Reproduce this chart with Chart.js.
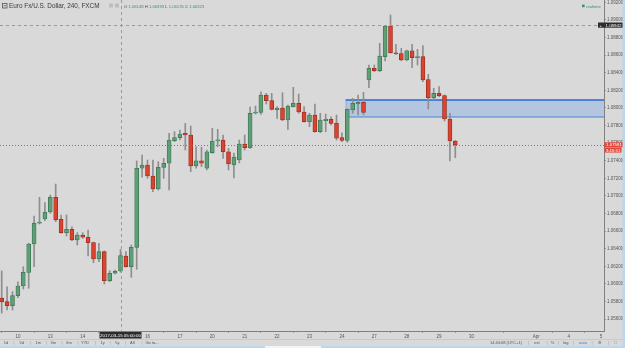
<!DOCTYPE html>
<html>
<head>
<meta charset="utf-8">
<title>Euro Fx/U.S. Dollar, 240</title>
<script src="https://cdn.jsdelivr.net/npm/chart.js@4.4.1/dist/chart.umd.min.js"></script>
<style>
  html, body { margin: 0; padding: 0; background: #d9d9d9; }
  canvas { display: block; }
</style>
</head>
<body>
<canvas id="c" width="625" height="348"></canvas>
<script>
/* ==========================
   data (4h bars, one per index)
   ========================== */
const opens = [
  1.05841, 1.05799, 1.05753, 1.05867, 1.05977, 1.06131, 1.06455, 1.06690, 1.06739, 1.06818,
  1.06985, 1.06735, 1.06583, 1.06622, 1.06500, 1.06557, 1.06531, 1.06472, 1.06284, 1.06367,
  1.06037, 1.06122, 1.06148, 1.06318, 1.06197, 1.06417, 1.07315, 1.07352, 1.07227, 1.07080,
  1.07326, 1.07372, 1.07628, 1.07663, 1.07713, 1.07693, 1.07341, 1.07401, 1.07315, 1.07492,
  1.07625, 1.07636, 1.07503, 1.07352, 1.07409, 1.07591, 1.07549, 1.07940, 1.07951, 1.08148,
  1.08083, 1.07981, 1.08000, 1.07864, 1.08015, 1.08053, 1.07955, 1.07844, 1.07920, 1.07731,
  1.07856, 1.07872, 1.07830, 1.07665, 1.07631, 1.07977, 1.08045, 1.08065, 1.08318, 1.08451,
  1.08424, 1.08583, 1.08932, 1.08628, 1.08619, 1.08545, 1.08651, 1.08572, 1.08583, 1.08324,
  1.08117, 1.08167, 1.08142, 1.07875, 1.07625
];
const highs = [
  1.06148, 1.05969, 1.05913, 1.06026, 1.06197, 1.06463, 1.06773, 1.06985, 1.06924, 1.07011,
  1.07136, 1.06784, 1.06784, 1.06651, 1.06583, 1.06583, 1.06614, 1.06477, 1.06463, 1.06375,
  1.06151, 1.06159, 1.06393, 1.06367, 1.06443, 1.07398, 1.07466, 1.07409, 1.07409, 1.07390,
  1.07428, 1.07713, 1.07731, 1.07750, 1.07826, 1.07795, 1.07560, 1.07553, 1.07523, 1.07769,
  1.07758, 1.07693, 1.07542, 1.07489, 1.07636, 1.07693, 1.08011, 1.08023, 1.08185, 1.08167,
  1.08167, 1.08015, 1.08174, 1.08034, 1.08235, 1.08159, 1.08015, 1.07940, 1.08045, 1.07940,
  1.07932, 1.07901, 1.07920, 1.07719, 1.07989, 1.08110, 1.08148, 1.08178, 1.08489, 1.08489,
  1.08735, 1.08938, 1.09057, 1.08724, 1.08678, 1.08659, 1.08724, 1.08667, 1.08708, 1.08383,
  1.08224, 1.08242, 1.08148, 1.07940, 1.07631
];
const lows = [
  1.05670, 1.05705, 1.05705, 1.05844, 1.05943, 1.05951, 1.06197, 1.06682, 1.06719, 1.06803,
  1.06708, 1.06576, 1.06546, 1.06492, 1.06443, 1.06519, 1.06318, 1.06242, 1.06253, 1.06000,
  1.06026, 1.06114, 1.06135, 1.06190, 1.06076, 1.06167, 1.07213, 1.07201, 1.07049, 1.07068,
  1.07201, 1.07068, 1.07617, 1.07636, 1.07523, 1.07276, 1.07315, 1.07333, 1.07296, 1.07485,
  1.07560, 1.07428, 1.07296, 1.07205, 1.07375, 1.07523, 1.07540, 1.07932, 1.07928, 1.08045,
  1.07977, 1.07883, 1.07856, 1.07758, 1.08011, 1.07940, 1.07838, 1.07788, 1.07724, 1.07719,
  1.07731, 1.07807, 1.07636, 1.07617, 1.07610, 1.07940, 1.07920, 1.07920, 1.08231, 1.08413,
  1.08413, 1.08534, 1.08622, 1.08608, 1.08537, 1.08537, 1.08458, 1.08489, 1.08299, 1.07989,
  1.08091, 1.08128, 1.07852, 1.07398, 1.07435
];
const closes = [
  1.05795, 1.05753, 1.05867, 1.05977, 1.06133, 1.06455, 1.06690, 1.06705, 1.06815, 1.06985,
  1.06727, 1.06583, 1.06622, 1.06500, 1.06557, 1.06531, 1.06469, 1.06284, 1.06367, 1.06037,
  1.06122, 1.06144, 1.06323, 1.06197, 1.06417, 1.07315, 1.07352, 1.07227, 1.07080, 1.07326,
  1.07372, 1.07636, 1.07663, 1.07705, 1.07693, 1.07341, 1.07401, 1.07372, 1.07503, 1.07625,
  1.07636, 1.07503, 1.07364, 1.07443, 1.07591, 1.07549, 1.07940, 1.07955, 1.08148, 1.08083,
  1.07985, 1.08000, 1.07864, 1.08023, 1.08053, 1.07955, 1.07844, 1.07920, 1.07731, 1.07864,
  1.07875, 1.07826, 1.07656, 1.07631, 1.07985, 1.08053, 1.08065, 1.07951, 1.08451, 1.08424,
  1.08591, 1.08932, 1.08628, 1.08614, 1.08545, 1.08651, 1.08572, 1.08583, 1.08318, 1.08117,
  1.08167, 1.08140, 1.07875, 1.07625, 1.07581
];

// time axis: bar index where each day starts, and its label
const dayStart  = [3, 9, 15, 21, 27, 33, 39, 45, 51, 57, 63, 69, 75, 81, 87, 99, 105, 111];
const dayLabels = ['10','13','14','15','16','17','20','21','22','23','24','27','28','29','30','Apr','4','5'];

// price axis ticks
const priceTicks = [1.056, 1.058, 1.060, 1.062, 1.064, 1.066, 1.068, 1.070, 1.072, 1.074,
                    1.076, 1.078, 1.080, 1.082, 1.084, 1.086, 1.088, 1.090, 1.092];

// drawn zone, crosshair, last price
const zoneStart = 63.7, zoneTop = 1.08091, zoneBottom = 1.07898;
const crossBar = 22, crossPrice = 1.08942, crossTime = '2017-03-15 05:00:00';
const lastPrice = 1.07581, countdown = '3:45:51';

/* ==========================
   styles
   ========================== */
const BG = '#d9d9d9';
const UP = '#5f9f78', UP_EDGE = '#3b7653';
const DN = '#d9432f', DN_EDGE = '#9c2c1d';
const WICK = '#8e8e8e';
const FONT = '"Liberation Sans", Arial, sans-serif';

const bodies = opens.map((o, i) => ({ x: i, y: [o, closes[i]] }));
const wicks  = lows.map((l, i) => ({ x: i, y: [l, highs[i]] }));
const fills  = opens.map((o, i) => closes[i] >= o ? UP : DN);
const edges  = opens.map((o, i) => closes[i] >= o ? UP_EDGE : DN_EDGE);

function box(c, x, y, w, h, bg, text, fg, font) {
  c.fillStyle = bg; c.fillRect(x, y, w, h);
  c.fillStyle = fg; c.font = font; c.textBaseline = 'middle';
  c.fillText(text, x + w / 2, y + h / 2 + 0.3);
}

/* ==========================
   extra drawing (zone, crosshair, texts)
   ========================== */
const decor = {
  id: 'decor',
  beforeDraw(chart) {
    const c = chart.ctx;
    c.save();
    c.fillStyle = BG;
    c.fillRect(0, 0, chart.width, chart.height);
    c.restore();
  },
  beforeDatasetsDraw(chart) {
    const { ctx: c, scales: { x, y }, chartArea: a } = chart;
    const x0 = x.getPixelForValue(zoneStart);
    const y0 = y.getPixelForValue(zoneTop), y1 = y.getPixelForValue(zoneBottom);
    c.save();
    c.fillStyle = 'rgba(150,182,228,0.55)';
    c.fillRect(x0, y0, a.right - x0, y1 - y0);
    c.strokeStyle = '#8fb1de'; c.lineWidth = 1;
    c.beginPath(); c.moveTo(x0 + 0.5, y0); c.lineTo(x0 + 0.5, y1); c.stroke();
    c.strokeStyle = '#2468d6'; c.lineWidth = 1.5;
    c.beginPath(); c.moveTo(x0, y0); c.lineTo(a.right, y0); c.stroke();
    c.strokeStyle = '#4a84d8'; c.lineWidth = 1.2;
    c.beginPath(); c.moveTo(x0, y1); c.lineTo(a.right, y1); c.stroke();
    c.restore();
  },
  afterDatasetsDraw(chart) {
    const { ctx: c, scales: { x, y }, chartArea: a } = chart;
    c.save();
    // last price line
    const ly = Math.round(y.getPixelForValue(lastPrice)) + 0.5;
    c.strokeStyle = '#e0503e'; c.lineWidth = 1; c.setLineDash([1, 2]);
    c.beginPath(); c.moveTo(a.left, ly); c.lineTo(a.right, ly); c.stroke();
    // crosshair
    const cx = Math.round(x.getPixelForValue(crossBar)) + 0.5;
    const cy = Math.round(y.getPixelForValue(crossPrice)) + 0.5;
    c.strokeStyle = '#9a9a9a'; c.setLineDash([3, 3]);
    c.beginPath(); c.moveTo(cx, a.top); c.lineTo(cx, a.bottom); c.stroke();
    c.beginPath(); c.moveTo(a.left, cy); c.lineTo(a.right, cy); c.stroke();
    c.restore();
  },
  afterDraw(chart) {
    const { ctx: c, scales: { x, y }, chartArea: a } = chart;
    c.save();
    c.textAlign = 'center';
    const small = '4.4px ' + FONT;

    // price axis labels
    const ly = y.getPixelForValue(lastPrice);
    box(c, a.right + 0.5, ly - 2.6, 19, 5.2, '#e0493a', lastPrice.toFixed(5), '#fff', small);
    box(c, a.right + 0.5, ly + 2.9, 17, 4.8, '#e0493a', countdown, '#fff', small);
    const cy = y.getPixelForValue(crossPrice);
    box(c, a.right - 6, cy - 2.6, 25, 5.2, '#2b2b2b', '', '#fff', small);
    c.fillStyle = '#fff'; c.font = small; c.textAlign = 'left';
    c.fillText('+', a.right - 4.5, cy + 0.3);
    c.fillText(crossPrice.toFixed(5), a.right + 1.5, cy + 0.3);
    c.textAlign = 'center';

    // time axis label
    const cx = x.getPixelForValue(crossBar);
    box(c, cx - 21, a.bottom + 1, 42, 6.5, '#2b2b2b', crossTime, '#fff', small);

    // header
    c.textAlign = 'left'; c.textBaseline = 'alphabetic';
    c.strokeStyle = '#555'; c.lineWidth = 0.8;
    c.strokeRect(2.5, 3.5, 4.5, 4.5);
    c.beginPath(); c.moveTo(3.5, 5.75); c.lineTo(6, 5.75); c.stroke();
    c.fillStyle = '#3a3a3a'; c.font = '6.4px ' + FONT;
    c.fillText('Euro Fx/U.S. Dollar, 240, FXCM', 9, 8.2);
    c.fillStyle = '#bdbdbd';
    c.fillRect(109, 3.5, 4, 4); c.fillRect(115, 3.5, 4, 4);
    const i = crossBar;
    const parts = [['O ', opens[i]], ['H ', highs[i]], ['L ', lows[i]], ['C ', closes[i]]];
    let hx = 124;
    c.font = '4.2px ' + FONT;
    parts.forEach(([k, v]) => {
      c.fillStyle = '#4a4a4a'; c.fillText(k, hx, 7.5); hx += c.measureText(k).width;
      const s = v.toFixed(5);
      c.fillStyle = '#3d9466'; c.fillText(s, hx, 7.5); hx += c.measureText(s + ' ').width;
    });
    c.fillStyle = '#3d9466'; c.fillRect(582, 4.6, 2.6, 2.6);
    c.fillText('realtime', 586, 7.5);

    // bottom toolbar
    c.strokeStyle = '#c9c9c9'; c.lineWidth = 1;
    c.beginPath(); c.moveTo(0, 339.5); c.lineTo(625, 339.5); c.stroke();
    c.font = '4px ' + FONT; c.textAlign = 'center'; c.textBaseline = 'middle';
    const left = [['1d', 6], ['5d', 21.7], ['1m', 38.3], ['3m', 53.3], ['6m', 69], ['YTD', 85],
                  ['1y', 102.7], ['5y', 117.3], ['All', 132.3], ['Go to...', 152]];
    const seps = [13.3, 30, 46, 61.7, 77.3, 95, 110, 125, 141.7, 528, 546.7, 558, 573, 591.7, 608];
    c.fillStyle = '#555';
    left.forEach(([t, px]) => c.fillText(t, px, 343));
    c.fillText('14:44:08 (UTC+1)', 506, 343);
    c.fillText('ext', 537, 343);
    c.fillText('%', 552.5, 343);
    c.fillText('log', 565.7, 343);
    c.fillText('\u2699', 600, 343);
    c.fillStyle = '#3b7bd4';
    c.fillText('auto', 583, 343);
    c.fillText('\u26F6', 615, 343);
    c.strokeStyle = '#c2c2c2';
    seps.forEach(px => { c.beginPath(); c.moveTo(px + 0.5, 341); c.lineTo(px + 0.5, 345); c.stroke(); });

    // window edges
    c.fillStyle = '#bcd6ec';
    c.fillRect(0, 346, 625, 2);
    c.fillRect(622.5, 0, 2.5, 348);
    c.fillStyle = '#f4f4f4';
    c.fillRect(265, 346, 56, 2);
    c.restore();
  }
};

/* ==========================
   chart
   ========================== */
new Chart(document.getElementById('c'), {
  type: 'bar',
  data: {
    datasets: [
      {
        label: 'body', data: bodies, grouped: false,
        backgroundColor: fills, borderColor: edges, borderWidth: 0.8, borderSkipped: false,
        barThickness: 4, minBarLength: 1.2
      },
      {
        label: 'wick', data: wicks, grouped: false,
        backgroundColor: WICK, borderWidth: 0, barThickness: 1
      }
    ]
  },
  options: {
    responsive: false,
    animation: false,
    devicePixelRatio: 1,
    layout: { padding: 0 },
    plugins: { legend: { display: false }, tooltip: { enabled: false } },
    scales: {
      x: {
        type: 'linear', offset: false,
        min: -1.7 / 5.4, max: (604 - 1.7) / 5.4,
        border: { color: '#808080' },
        grid: { drawOnChartArea: false, tickLength: 2, color: '#9a9a9a' },
        afterBuildTicks: s => { s.ticks = dayStart.map(v => ({ value: v })); },
        afterFit: s => { s.height = 17; s.paddingLeft = 0; s.paddingRight = 0; },
        ticks: {
          autoSkip: false, maxRotation: 0, padding: 1,
          color: '#555', font: { size: 4.5, family: FONT },
          callback: (v, idx) => dayLabels[idx]
        }
      },
      y: {
        position: 'right',
        min: 1.09 + 20 / 8800 - 331 / 8800, max: 1.09 + 20 / 8800,
        border: { color: '#808080' },
        grid: { drawOnChartArea: false, tickLength: 2, color: '#9a9a9a' },
        afterBuildTicks: s => { s.ticks = priceTicks.map(v => ({ value: v })); },
        afterFit: s => { s.width = 21; s.paddingTop = 0; s.paddingBottom = 0; },
        ticks: {
          padding: 1, color: '#555', font: { size: 4.5, family: FONT },
          callback: v => v.toFixed(5)
        }
      }
    }
  },
  plugins: [decor]
});
</script>
</body>
</html>
